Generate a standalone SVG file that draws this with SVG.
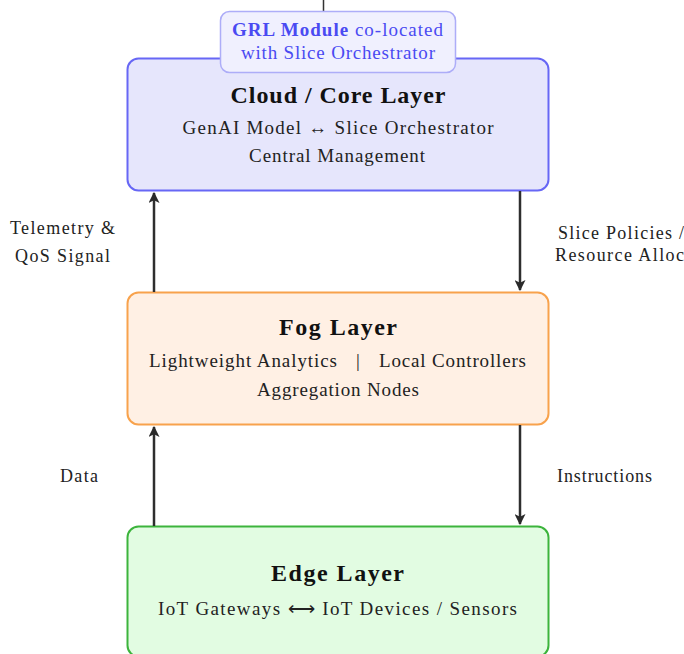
<svg xmlns="http://www.w3.org/2000/svg" width="684" height="654" viewBox="0 0 684 654">
<defs>
<marker id="ah" viewBox="0 0 10 10" refX="9" refY="5" markerWidth="4.4" markerHeight="4.4" orient="auto" markerUnits="strokeWidth">
<path d="M0,0 L10,5 L0,10 L2.5,5 Z" fill="#2a2a2a"/>
</marker>
<style>
text{font-family:"Liberation Serif","Times New Roman",serif;fill:#222}
.t{font-size:24px;font-weight:bold;fill:#111}
.b{font-size:19px}
.l{font-size:18px}
.g{fill:#4a4af2;font-size:19px}
.c{stroke:#2e2e2e;stroke-width:2.5;fill:none;marker-end:url(#ah)}
</style>
</defs>
<rect width="684" height="654" fill="#fff"/>
<path d="M323.5 0 V12 M320 12 H327" stroke="#333" stroke-width="1.5"/>
<g id="cloud">
<rect x="127.5" y="58.5" width="421" height="132" rx="11" fill="#e6e6fc" stroke="#6767f5" stroke-width="2"/>
<text class="t" x="338" y="103" text-anchor="middle" textLength="215">Cloud / Core Layer</text>
<text class="b" x="338" y="134" text-anchor="middle" textLength="311">GenAI Model ↔ Slice Orchestrator</text>
<text class="b" x="337" y="162" text-anchor="middle" textLength="176">Central Management</text>
</g>
<g id="grl">
<rect x="220.5" y="11.5" width="235" height="61" rx="9" fill="#f0f0fe" stroke="#adadf8" stroke-width="1.5"/>
<text class="g" x="337.5" y="36" text-anchor="middle" textLength="211"><tspan font-weight="bold">GRL Module</tspan> co-located</text>
<text class="g" x="338" y="59" text-anchor="middle" textLength="194">with Slice Orchestrator</text>
</g>
<g id="fog">
<rect x="127.5" y="292.5" width="421" height="132" rx="11" fill="#fff0e4" stroke="#f8a24c" stroke-width="2"/>
<text class="t" x="338" y="335" text-anchor="middle" textLength="118">Fog Layer</text>
<text class="b" y="367"><tspan x="149" textLength="188">Lightweight Analytics</tspan><tspan x="356">|</tspan><tspan x="379" textLength="147">Local Controllers</tspan></text>
<text class="b" x="338" y="396" text-anchor="middle" textLength="162">Aggregation Nodes</text>
</g>
<g id="edge">
<rect x="127.5" y="526.5" width="421" height="130" rx="11" fill="#e2fce2" stroke="#3cb43c" stroke-width="2"/>
<text class="t" x="337.5" y="581" text-anchor="middle" textLength="133">Edge Layer</text>
<text class="b" x="337.5" y="615" text-anchor="middle" textLength="359">IoT Gateways ⟷ IoT Devices / Sensors</text>
</g>
<g id="connectors">
<line class="c" x1="154" y1="292" x2="154" y2="193"/>
<line class="c" x1="520" y1="191" x2="520" y2="290"/>
<line class="c" x1="154" y1="526" x2="154" y2="427"/>
<line class="c" x1="520" y1="425" x2="520" y2="524"/>
<text class="l" x="62.5" y="234" text-anchor="middle" textLength="105">Telemetry &amp;</text>
<text class="l" x="62.5" y="262" text-anchor="middle" textLength="95">QoS Signal</text>
<text class="l" x="558" y="239" textLength="126">Slice Policies /</text>
<text class="l" x="555" y="261" textLength="129">Resource Alloc</text>
<text class="l" x="79" y="482" text-anchor="middle" textLength="38">Data</text>
<text class="l" x="557" y="482" textLength="95">Instructions</text>
</g>
</svg>
